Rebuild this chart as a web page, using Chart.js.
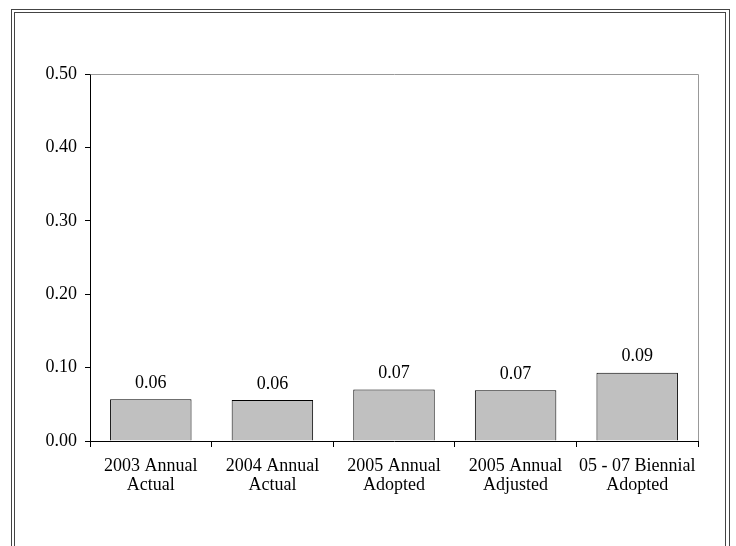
<!DOCTYPE html>
<html>
<head>
<meta charset="utf-8">
<script src="https://cdn.jsdelivr.net/npm/chart.js@4"></script>
<style>
  html, body { margin: 0; padding: 0; background: #fff; }
  #wrap { width: 736px; height: 546px; }
</style>
</head>
<body>
<div id="wrap"><canvas id="chart" width="736" height="546"></canvas></div>
<script>
var categories = [
    ['2003 Annual', 'Actual'],
    ['2004 Annual', 'Actual'],
    ['2005 Annual', 'Adopted'],
    ['2005 Annual', 'Adjusted'],
    ['05 - 07 Biennial', 'Adopted']
];
var values = [0.057, 0.056, 0.070, 0.069, 0.093];
var yTicks = [0, 0.1, 0.2, 0.3, 0.4, 0.5];

var serif = "'Liberation Serif', 'Times New Roman', serif";

// frame around the whole picture (double line)
var framePlugin = {
    id: 'frame',
    beforeDraw: function (chart) {
        var c = chart.ctx;
        c.save();
        c.strokeStyle = '#444';
        c.lineWidth = 1;
        c.strokeRect(11.5, 9.5, 718, 560);
        c.strokeRect(14.5, 12.5, 711, 560);
        c.restore();
    }
};

// gray top and right edge of plot area
var plotEdge = {
    id: 'plotEdge',
    beforeDatasetsDraw: function (chart) {
        var a = chart.chartArea, c = chart.ctx;
        c.save();
        c.strokeStyle = '#999';
        c.lineWidth = 1;
        c.beginPath();
        c.moveTo(Math.round(a.left) + 0.5, Math.round(a.top) + 0.5);
        c.lineTo(Math.round(a.right) + 0.5, Math.round(a.top) + 0.5);
        c.lineTo(Math.round(a.right) + 0.5, Math.round(a.bottom));
        c.stroke();
        c.restore();
    }
};

// value labels over bars
var valueLabels = {
    id: 'valueLabels',
    afterDatasetsDraw: function (chart) {
        var c = chart.ctx;
        var meta = chart.getDatasetMeta(0);
        c.save();
        c.font = '18px ' + serif;
        c.fillStyle = '#000';
        c.textAlign = 'center';
        c.textBaseline = 'bottom';
        meta.data.forEach(function (bar, i) {
            c.fillText(values[i].toFixed(2), bar.x, bar.y - 7);
        });
        c.restore();
    }
};

var ctx = document.getElementById('chart').getContext('2d');
var chart = new Chart(ctx, {
    type: 'bar',
    data: {
        labels: categories,
        datasets: [{
            data: values,
            backgroundColor: '#c0c0c0',
            borderColor: '#000',
            borderWidth: 1,
            barPercentage: 0.67,
            categoryPercentage: 1
        }]
    },
    options: {
        responsive: false,
        animation: false,
        layout: { padding: { top: 74, right: 38, left: 0, bottom: 0 } },
        plugins: {
            legend: { display: false },
            tooltip: { enabled: false }
        },
        scales: {
            x: {
                offset: true,
                grid: {
                    display: true,
                    drawOnChartArea: false,
                    tickLength: 6,
                    color: '#000',
                    offset: true
                },
                border: { color: '#000', width: 1 },
                ticks: {
                    color: '#000',
                    font: { family: serif, size: 18, lineHeight: 1.1 },
                    padding: 9,
                    maxRotation: 0,
                    autoSkip: false
                },
                afterFit: function (s) { s.height = 105; }
            },
            y: {
                min: 0,
                max: 0.5,
                grid: {
                    drawOnChartArea: false,
                    tickLength: 5,
                    color: '#000'
                },
                border: { color: '#000', width: 1 },
                afterBuildTicks: function (s) {
                    s.ticks = yTicks.map(function (v) { return { value: v }; });
                },
                ticks: {
                    color: '#000',
                    font: { family: serif, size: 18 },
                    padding: 8,
                    callback: function (v) { return Number(v).toFixed(2); }
                },
                afterFit: function (s) { s.width = 90; }
            }
        }
    },
    plugins: [framePlugin, plotEdge, valueLabels]
});
</script>
</body>
</html>
